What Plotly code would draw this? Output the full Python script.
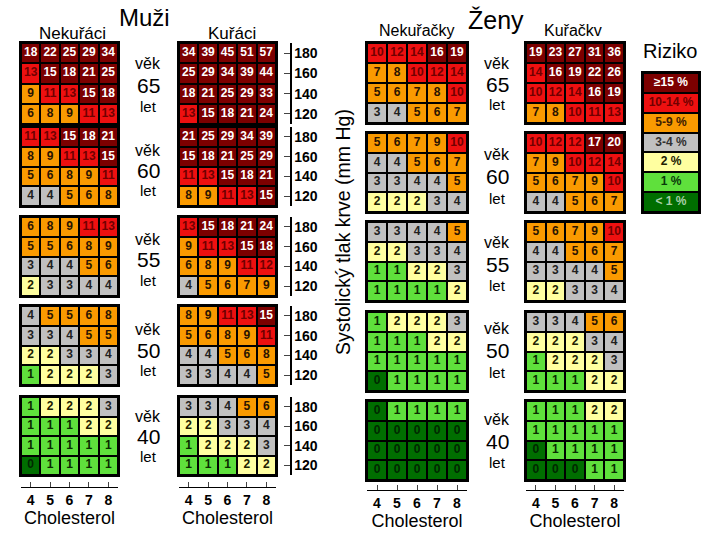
import plotly.graph_objects as go

# ---------------- data ----------------
AGES = [65, 60, 55, 50, 40]
CHOLESTEROL = [4, 5, 6, 7, 8]
SBP = [180, 160, 140, 120]
RISK_LABELS = ["≥15 %", "10-14 %", "5-9 %", "3-4 %", "2 %", "1 %", "< 1 %"]
RISK_CLASSES = [6, 5, 4, 3, 2, 1, 0]

men_nonsmokers = [
    [[18, 22, 25, 29, 34], [13, 15, 18, 21, 25], [9, 11, 13, 15, 18], [6, 8, 9, 11, 13]],
    [[11, 13, 15, 18, 21], [8, 9, 11, 13, 15], [5, 6, 8, 9, 11], [4, 4, 5, 6, 8]],
    [[6, 8, 9, 11, 13], [5, 5, 6, 8, 9], [3, 4, 4, 5, 6], [2, 3, 3, 4, 4]],
    [[4, 5, 5, 6, 8], [3, 3, 4, 5, 5], [2, 2, 3, 3, 4], [1, 2, 2, 2, 3]],
    [[1, 2, 2, 2, 3], [1, 1, 1, 2, 2], [1, 1, 1, 1, 1], [0, 1, 1, 1, 1]],
]
men_smokers = [
    [[34, 39, 45, 51, 57], [25, 29, 34, 39, 44], [18, 21, 25, 29, 33], [13, 15, 18, 21, 24]],
    [[21, 25, 29, 34, 39], [15, 18, 21, 25, 29], [11, 13, 15, 18, 21], [8, 9, 11, 13, 15]],
    [[13, 15, 18, 21, 24], [9, 11, 13, 15, 18], [6, 8, 9, 11, 12], [4, 5, 6, 7, 9]],
    [[8, 9, 11, 13, 15], [5, 6, 8, 9, 11], [4, 4, 5, 6, 8], [3, 3, 4, 4, 5]],
    [[3, 3, 4, 5, 6], [2, 2, 3, 3, 4], [1, 2, 2, 2, 3], [1, 1, 1, 2, 2]],
]
women_nonsmokers = [
    [[10, 12, 14, 16, 19], [7, 8, 10, 12, 14], [5, 6, 7, 8, 10], [3, 4, 5, 6, 7]],
    [[5, 6, 7, 9, 10], [4, 4, 5, 6, 7], [3, 3, 4, 4, 5], [2, 2, 2, 3, 4]],
    [[3, 3, 4, 4, 5], [2, 2, 3, 3, 4], [1, 1, 2, 2, 3], [1, 1, 1, 1, 2]],
    [[1, 2, 2, 2, 3], [1, 1, 1, 2, 2], [1, 1, 1, 1, 1], [0, 1, 1, 1, 1]],
    [[0, 1, 1, 1, 1], [0, 0, 0, 0, 0], [0, 0, 0, 0, 0], [0, 0, 0, 0, 0]],
]
women_smokers = [
    [[19, 23, 27, 31, 36], [14, 16, 19, 22, 26], [10, 12, 14, 16, 19], [7, 8, 10, 11, 13]],
    [[10, 12, 12, 17, 20], [7, 9, 10, 12, 14], [5, 6, 7, 9, 10], [4, 4, 5, 6, 7]],
    [[5, 6, 7, 9, 10], [4, 4, 5, 6, 7], [3, 3, 4, 4, 5], [2, 2, 3, 3, 4]],
    [[3, 3, 4, 5, 6], [2, 2, 2, 3, 4], [1, 2, 2, 2, 3], [1, 1, 1, 2, 2]],
    [[1, 1, 1, 2, 2], [1, 1, 1, 1, 1], [0, 1, 1, 1, 1], [0, 0, 0, 1, 1]],
]

# ---------------- styling ----------------
FONT = "Arial, Liberation Sans, sans-serif"
W, H = 720, 540
CELL_COLORS = ["#006e00", "#5fe03c", "#ffffa0", "#c0c0c0", "#fa9a00", "#ee1010", "#7c0000"]
TEXT_COLORS = ["#002800", "#0a2a00", "#202000", "#202020", "#2a1400", "#700000", "#ffffff"]
LEGEND_TEXT_COLORS = ["#ffffff", "#700000", "#402000", "#303030", "#202000", "#0a3a0a", "#a8d0a8"]

CSCALE = []
for i, c in enumerate(CELL_COLORS):
    CSCALE.append([i / 7, c])
    CSCALE.append([(i + 1) / 7, c])


def risk_class(v):
    if v >= 15:
        return 6
    if v >= 10:
        return 5
    if v >= 5:
        return 4
    if v >= 3:
        return 3
    if v == 2:
        return 2
    if v == 1:
        return 1
    return 0


def xdom(a, b):
    return [a / W, b / W]


def ydom(top, bottom):
    return [1 - bottom / H, 1 - top / H]


BOX = dict(showticklabels=False, ticks="", showgrid=False, zeroline=False,
           showline=True, linecolor="black", linewidth=2, mirror=True, fixedrange=True)

MEN_ROWS = [(43, 124), (127, 206), (217, 296), (306, 385), (397, 475)]
WOMEN_ROWS = [(43, 123), (133, 212), (222, 301), (312, 391), (401, 480)]
COLUMNS = [
    (men_nonsmokers, (21, 118), MEN_ROWS, 487),
    (men_smokers, (179, 276), MEN_ROWS, 487),
    (women_nonsmokers, (367, 467), WOMEN_ROWS, 490),
    (women_smokers, (526, 624), WOMEN_ROWS, 490),
]

fig = go.Figure()
axes = {}


def sfx(k):
    return "" if k == 1 else str(k)


k = 0
chol_id = 20
sbp_id = 20
for ci, (grids, (x0, x1), rows, chol_y) in enumerate(COLUMNS):
    for ri, grid in enumerate(grids):
        k += 1
        s = sfx(k)
        classes = [[risk_class(v) for v in row] for row in grid]
        fig.add_trace(go.Heatmap(
            z=classes, x=CHOLESTEROL, y=SBP, colorscale=CSCALE, zmin=-0.5, zmax=6.5,
            showscale=False, xgap=2, ygap=2, hoverinfo="skip", xaxis="x" + s, yaxis="y" + s))
        xs, ys, ts, cs = [], [], [], []
        for r, sbp in enumerate(SBP):
            for c, chol in enumerate(CHOLESTEROL):
                v = grid[r][c]
                xs.append(chol)
                ys.append(sbp)
                ts.append(str(v))
                cs.append(TEXT_COLORS[risk_class(v)])
        fig.add_trace(go.Scatter(
            x=xs, y=ys, text=ts, mode="text", hoverinfo="skip", showlegend=False,
            textfont=dict(family=FONT, size=12, color=cs, weight="bold"),
            xaxis="x" + s, yaxis="y" + s))
        axes["xaxis" + s] = dict(domain=xdom(x0, x1), anchor="y" + s, range=[3.5, 8.5], **BOX)
        axes["yaxis" + s] = dict(domain=ydom(*rows[ri]), anchor="x" + s, range=[110, 190], **BOX)

        # right-hand blood pressure axis next to men smokers
        if ci == 1:
            sbp_id += 1
            axes["yaxis%d" % sbp_id] = dict(
                overlaying="y" + s, side="right", anchor="free", position=290 / W,
                range=[110, 190], tickvals=SBP, ticks="inside", ticklen=6, tickwidth=1,
                showline=True, linecolor="black", linewidth=1.5, showgrid=False, zeroline=False,
                tickfont=dict(family=FONT, size=14, color="black", weight="bold"), fixedrange=True)
            fig.add_trace(go.Scatter(x=[CHOLESTEROL[0]], y=[SBP[0]], mode="markers",
                                     marker=dict(opacity=0), hoverinfo="skip", showlegend=False,
                                     xaxis="x" + s, yaxis="y%d" % sbp_id))

        # cholesterol axis below the lowest grid
        if ri == len(grids) - 1:
            chol_id += 1
            axes["xaxis%d" % chol_id] = dict(
                overlaying="x" + s, anchor="free", position=1 - chol_y / H,
                range=[3.5, 8.5], tickvals=CHOLESTEROL, ticks="inside", ticklen=5, tickwidth=1,
                showline=True, linecolor="black", linewidth=1, showgrid=False, zeroline=False,
                tickfont=dict(family=FONT, size=14, color="black", weight="bold"),
                title=dict(text="Cholesterol", font=dict(family=FONT, size=18, color="black"), standoff=0),
                fixedrange=True)
            fig.add_trace(go.Scatter(x=[CHOLESTEROL[0]], y=[SBP[0]], mode="markers",
                                     marker=dict(opacity=0), hoverinfo="skip", showlegend=False,
                                     xaxis="x%d" % chol_id, yaxis="y" + s))

# legend ("Riziko")
fig.add_trace(go.Heatmap(
    z=[[c] for c in RISK_CLASSES], x=[0], y=RISK_LABELS, colorscale=CSCALE, zmin=-0.5, zmax=6.5,
    showscale=False, xgap=2, ygap=2, hoverinfo="skip", xaxis="x30", yaxis="y30"))
fig.add_trace(go.Scatter(
    x=[0] * len(RISK_LABELS), y=RISK_LABELS, text=RISK_LABELS, mode="text", hoverinfo="skip",
    showlegend=False, textfont=dict(family=FONT, size=12, color=LEGEND_TEXT_COLORS, weight="bold"),
    xaxis="x30", yaxis="y30"))
axes["xaxis30"] = dict(domain=xdom(643, 699), anchor="y30", range=[-0.5, 0.5], **BOX)
axes["yaxis30"] = dict(domain=ydom(73, 212), anchor="x30", type="category",
                       range=[len(RISK_LABELS) - 0.5, -0.5], **BOX)

# ---------------- text ----------------
ann = []


def text(x, y, t, size, angle=0):
    ann.append(dict(x=x / W, y=1 - y / H, xref="paper", yref="paper", text=t, showarrow=False,
                    xanchor="center", yanchor="middle", textangle=angle,
                    font=dict(family=FONT, size=size, color="black")))


text(144, 18, "Muži", 24)
text(72, 33, "Nekuřáci", 17)
text(232, 33, "Kuřáci", 17)
text(496, 20, "Ženy", 25)
text(417, 30, "Nekuřačky", 16)
text(573, 31, "Kuřačkv", 16)
text(670, 51, "Riziko", 20)
text(343, 232, "Systolický tlak krve (mm Hg)", 19.5, -90)

MEN_AGE_Y = [(63, 85, 106), (150, 170, 191), (239, 259, 280), (329, 350, 370), (416, 436, 456)]
WOMEN_AGE_Y = [(63, 84, 105), (155, 177, 198), (243, 264, 285), (328, 350, 372), (419, 441, 462)]
for age, (a, b, c) in zip(AGES, MEN_AGE_Y):
    text(148, a, "věk", 16)
    text(148, b, str(age), 21)
    text(148, c, "let", 15)
for age, (a, b, c) in zip(AGES, WOMEN_AGE_Y):
    text(497, a, "věk", 16)
    text(497, b, str(age), 21)
    text(497, c, "let", 15)

fig.update_layout(
    width=W, height=H, margin=dict(l=0, r=0, t=0, b=0),
    paper_bgcolor="white", plot_bgcolor="black", showlegend=False,
    annotations=ann, font=dict(family=FONT, color="black"), **axes)

fig.write_html("out.html", config={"displayModeBar": False, "staticPlot": True},
               post_script="document.body.style.margin='0';")
